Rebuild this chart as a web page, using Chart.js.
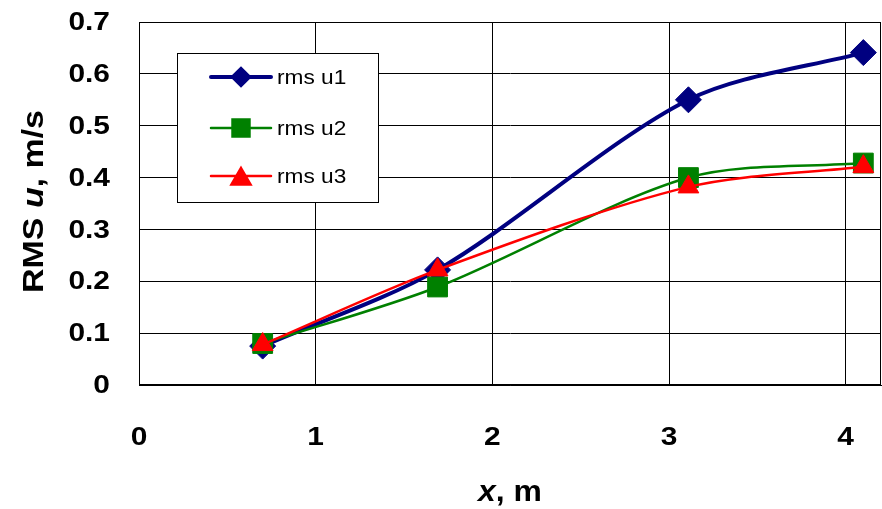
<!DOCTYPE html>
<html>
<head>
<meta charset="utf-8">
<script src="https://cdn.jsdelivr.net/npm/chart.js@4.4.1/dist/chart.umd.min.js"></script>
<style>
  html, body { margin: 0; padding: 0; background: #ffffff; }
  #chart { display: block; }
</style>
</head>
<body>
<canvas id="chart" width="882" height="509"></canvas>
<script>
// distance along the channel, m
const xPositions = [0.7, 1.69, 3.11, 4.1];

// RMS of u, m/s
const rmsU1 = [0.075, 0.222, 0.55, 0.641];
const rmsU2 = [0.08, 0.189, 0.4, 0.428];
const rmsU3 = [0.078, 0.222, 0.382, 0.421];

const seriesNames = ["rms u1", "rms u2", "rms u3"];

const xTickValues = [0, 1, 2, 3, 4];
const yTickValues = [0, 0.1, 0.2, 0.3, 0.4, 0.5, 0.6, 0.7];

const FONT = "'Liberation Sans', Arial, sans-serif";

function toPoints(values) {
  return values.map((y, i) => ({ x: xPositions[i], y }));
}

function yTickText(v) {
  return v === 0 ? "0" : v.toFixed(1);
}

// draws text made of several font runs, stretched along x
function drawRuns(ctx, runs, x, y, align, stretch) {
  let width = 0;
  runs.forEach((run) => {
    ctx.font = run.font;
    width += ctx.measureText(run.text).width;
  });
  ctx.save();
  ctx.translate(x, y);
  ctx.scale(stretch, 1);
  let cx = align === "center" ? -width / 2 : align === "right" ? -width : 0;
  runs.forEach((run) => {
    ctx.font = run.font;
    ctx.fillText(run.text, cx, 0);
    cx += ctx.measureText(run.text).width;
  });
  ctx.restore();
}

const axisTextPlugin = {
  id: "axisTextPlugin",
  afterDraw(chart) {
    const { ctx, chartArea, scales } = chart;
    const tickFont = "bold 26px " + FONT;
    ctx.save();
    ctx.fillStyle = "#000000";
    ctx.textBaseline = "middle";

    scales.y.ticks.forEach((tick) => {
      const py = scales.y.getPixelForValue(tick.value);
      drawRuns(ctx, [{ text: yTickText(tick.value), font: tickFont }], 110, py + 1, "right", 1.15);
    });
    scales.x.ticks.forEach((tick) => {
      const px = scales.x.getPixelForValue(tick.value);
      drawRuns(ctx, [{ text: String(tick.value), font: tickFont }], px, chartArea.bottom + 53, "center", 1.15);
    });

    ctx.textBaseline = "alphabetic";
    const titleFont = "bold 29px " + FONT;
    const titleItalic = "italic bold 29px " + FONT;
    drawRuns(ctx, [
      { text: "x", font: titleItalic },
      { text: ", m", font: titleFont }
    ], (chartArea.left + chartArea.right) / 2, 501, "center", 1.1);

    ctx.translate(43, (chartArea.top + chartArea.bottom) / 2 - 2);
    ctx.rotate(-Math.PI / 2);
    drawRuns(ctx, [
      { text: "RMS ", font: titleFont },
      { text: "u", font: titleItalic },
      { text: ", m/s", font: titleFont }
    ], 0, 0, "center", 1.17);
    ctx.restore();
  }
};

const frameAndLegendPlugin = {
  id: "frameAndLegendPlugin",
  beforeDatasetsDraw(chart) {
    const { ctx, chartArea } = chart;
    ctx.save();
    ctx.strokeStyle = "#000000";
    ctx.lineWidth = 1;
    ctx.strokeRect(chartArea.left + 0.5, chartArea.top + 0.5,
      chartArea.right - chartArea.left - 1, chartArea.bottom - chartArea.top - 1);
    ctx.restore();
  },
  afterDatasetsDraw(chart) {
    const { ctx } = chart;
    const box = { left: 177, top: 53, right: 379, bottom: 203 };
    const rows = [77, 128, 176];
    const markerRadius = [8, 12, 11];
    ctx.save();
    ctx.fillStyle = "#ffffff";
    ctx.fillRect(box.left, box.top, box.right - box.left, box.bottom - box.top);
    ctx.strokeStyle = "#000000";
    ctx.lineWidth = 1;
    ctx.strokeRect(box.left + 0.5, box.top + 0.5, box.right - box.left - 1, box.bottom - box.top - 1);

    chart.data.datasets.forEach((ds, i) => {
      const y = rows[i];
      ctx.strokeStyle = ds.borderColor;
      ctx.lineWidth = ds.borderWidth;
      ctx.lineCap = "round";
      ctx.beginPath();
      ctx.moveTo(211, y);
      ctx.lineTo(271, y);
      ctx.stroke();

      ctx.fillStyle = ds.pointBackgroundColor;
      ctx.strokeStyle = ds.pointBorderColor;
      Chart.helpers.drawPoint(ctx, {
        pointStyle: ds.pointStyle,
        radius: markerRadius[i],
        rotation: 0,
        borderWidth: 1
      }, 241, ds.pointStyle === "triangle" ? y + 3 : y);

      ctx.fillStyle = "#000000";
      ctx.textBaseline = "middle";
      drawRuns(ctx, [{ text: ds.label, font: "21px " + FONT }], 277, y + 1, "left", 1.08);
    });
    ctx.restore();
  }
};

const gridLines = {
  color: "#000000",
  lineWidth: 1,
  drawTicks: false
};

new Chart(document.getElementById("chart"), {
  type: "line",
  data: {
    datasets: [
      {
        label: seriesNames[0],
        data: toPoints(rmsU1),
        borderColor: "#000080",
        borderWidth: 4,
        pointStyle: "rectRot",
        pointRadius: 13,
        pointBackgroundColor: "#000080",
        pointBorderColor: "#000080",
        pointBorderWidth: 1,
        tension: 0.3,
        order: 3
      },
      {
        label: seriesNames[1],
        data: toPoints(rmsU2),
        borderColor: "#008000",
        borderWidth: 2.5,
        pointStyle: "rect",
        pointRadius: 14,
        pointBackgroundColor: "#008000",
        pointBorderColor: "#008000",
        pointBorderWidth: 1,
        tension: 0.3,
        order: 2
      },
      {
        label: seriesNames[2],
        data: toPoints(rmsU3),
        borderColor: "#ff0000",
        borderWidth: 2.5,
        pointStyle: "triangle",
        pointRadius: 12,
        pointBackgroundColor: "#ff0000",
        pointBorderColor: "#ff0000",
        pointBorderWidth: 1,
        tension: 0.3,
        order: 1
      }
    ]
  },
  options: {
    responsive: false,
    animation: false,
    layout: {
      autoPadding: false,
      padding: { top: 22, right: 1, left: 0, bottom: 0 }
    },
    plugins: {
      legend: { display: false },
      tooltip: { enabled: false }
    },
    scales: {
      x: {
        type: "linear",
        min: 0,
        max: 4.2,
        afterBuildTicks(scale) {
          scale.ticks = xTickValues.map((value) => ({ value }));
        },
        afterFit(scale) {
          scale.height = 124;
        },
        ticks: { display: false },
        grid: gridLines,
        border: { display: true, color: "#000000" }
      },
      y: {
        type: "linear",
        min: 0,
        max: 0.7,
        afterBuildTicks(scale) {
          scale.ticks = yTickValues.map((value) => ({ value }));
        },
        afterFit(scale) {
          scale.width = 139;
        },
        ticks: { display: false },
        grid: gridLines,
        border: { display: true, color: "#000000" }
      }
    }
  },
  plugins: [axisTextPlugin, frameAndLegendPlugin]
});
</script>
</body>
</html>
